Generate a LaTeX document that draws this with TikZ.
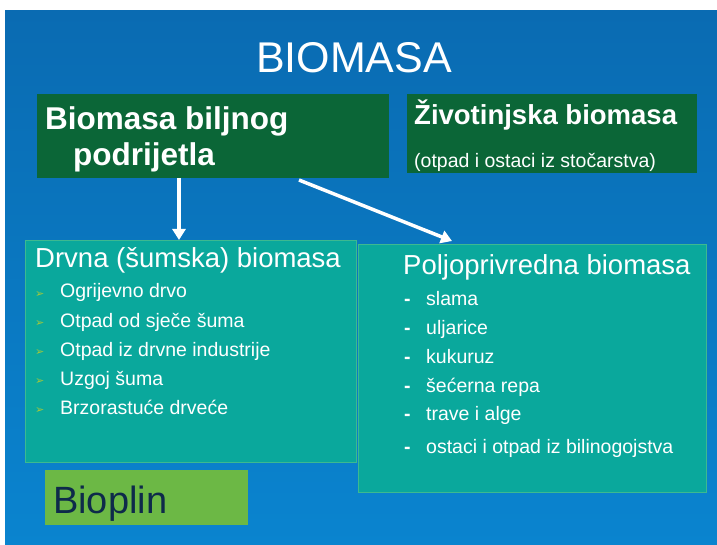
\documentclass[tikz,border=0pt]{standalone}
\usepackage{fontspec}
\setmainfont{Liberation Sans}
\newfontfamily\dingfont{DejaVu Sans}
\usetikzlibrary{arrows.meta}
\definecolor{slideblue}{HTML}{0A6BB2}
\definecolor{slidebluelow}{HTML}{0A84CF}
\definecolor{darkgreen}{HTML}{0B6637}
\definecolor{tealbox}{HTML}{0AA89C}
\definecolor{tealedge}{HTML}{3DB990}
\definecolor{lightgreen}{HTML}{6CB845}
\definecolor{bioplinnavy}{HTML}{0E2A4A}
\definecolor{bulletgreen}{HTML}{A3C83A}

\begin{document}
\begin{tikzpicture}[x=1pt,y=-1pt,
  box/.style={anchor=north west,inner sep=0pt,outer sep=0pt},
  txt/.style={anchor=base west,inner sep=0pt,text=white},
  arr/.style={white,line width=3.5pt,-{Triangle[width=13pt,length=11pt]}}]
 \useasboundingbox (0,0) rectangle (717,545);
 \fill[white] (0,0) rectangle (717,545);
 \shade[top color=slideblue,bottom color=slidebluelow] (5,11) rectangle (718,546);
 % title
 \node[anchor=base,inner sep=0pt,text=white,font=\fontsize{43}{48}\selectfont] (title) at (354,73) {BIOMASA};
 % top boxes
 \node[box,fill=darkgreen,minimum width=352pt,minimum height=84pt] (biljno) at (37,94) {};
 \node[txt,font=\fontsize{31.5}{36}\selectfont\bfseries] (biljnoA) at (45,130) {Biomasa biljnog};
 \node[txt,font=\fontsize{31.5}{36}\selectfont\bfseries] (biljnoB) at (73,166) {podrijetla};
 \node[box,fill=darkgreen,minimum width=290pt,minimum height=79pt] (zivot) at (407,94) {};
 \node[txt,font=\fontsize{27.5}{32}\selectfont\bfseries] (zivotA) at (414,125) {Životinjska biomasa};
 \node[txt,font=\fontsize{19.5}{23}\selectfont] (zivotB) at (414,168) {(otpad i ostaci iz stočarstva)};
 % lower boxes
 \node[box,fill=tealbox,draw=tealedge,line width=0.8pt,minimum width=331pt,minimum height=222pt] (drvna) at (25,240) {};
 \node[box,fill=tealbox,draw=tealedge,line width=0.8pt,minimum width=348pt,minimum height=248pt] (poljo) at (358,244) {};
 \node[box,fill=lightgreen,minimum width=203pt,minimum height=55pt] (bioplin) at (45,470) {};
 \node[txt,text=bioplinnavy,font=\fontsize{38}{44}\selectfont] (bioplinT) at (53,513) {Bioplin};
 % arrows
 \draw[arr] ([xshift=142pt]biljno.south west) -- ([xshift=154pt]drvna.north west);
 \draw[arr] ([shift={(262,2)}]biljno.south west) -- ([shift={(94,-3)}]poljo.north west);
 % wood list
 \node[txt,font=\fontsize{27.5}{32}\selectfont] (drvnaT) at (35,268) {Drvna (šumska) biomasa};
 \foreach \yy/\lbl [count=\i] in {298/Ogrijevno drvo,327/Otpad od sječe šuma,356/Otpad iz drvne industrije,385/Uzgoj šuma,414/Brzorastuće drveće}{
   \node[txt,text=bulletgreen,font=\dingfont\fontsize{11}{12}\selectfont] (bul\i) at (35,\yy-1) {➢};
   \node[txt,font=\fontsize{19.5}{23}\selectfont] (drv\i) at (60,\yy) {\lbl};
 }
 % farm list
 \node[txt,font=\fontsize{27.5}{32}\selectfont] (poljoT) at (403,275) {Poljoprivredna biomasa};
 \foreach \yy/\lbl [count=\i] in {305/slama,334/uljarice,363/kukuruz,392/šećerna repa,420/trave i alge,453/ostaci i otpad iz bilinogojstva}{
   \node[txt,font=\fontsize{19.5}{23}\selectfont\bfseries] (dash\i) at (404,\yy) {-};
   \node[txt,font=\fontsize{19.5}{23}\selectfont] (polj\i) at (426,\yy) {\lbl};
 }
\end{tikzpicture}
\end{document}
